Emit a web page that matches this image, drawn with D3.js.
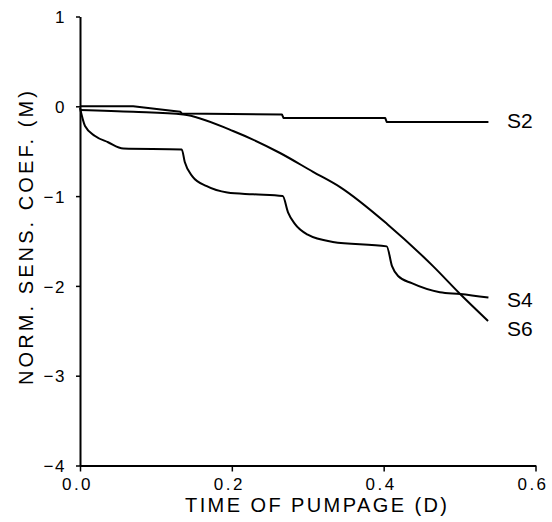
<!DOCTYPE html>
<html>
<head>
<meta charset="utf-8">
<script src="https://cdn.jsdelivr.net/npm/d3@7"></script>
<style>
  html, body { margin: 0; padding: 0; background: #fff; }
  svg { display: block; }
  text { font-family: "Liberation Sans", Arial, sans-serif; fill: #000; }
</style>
</head>
<body>
<svg id="chart" width="552" height="522"></svg>
<script>
// Normalized sensitivity coefficients (m) versus time of pumpage (days)
const seriesNames = ["S2", "S4", "S6"];

const s2Time  = [0, 0.070, 0.132, 0.134, 0.266, 0.268, 0.402, 0.404, 0.538];
const s2Value = [0, 0, -0.06, -0.08, -0.09, -0.13, -0.13, -0.175, -0.175];

const s4Time  = [0, 0.0066, 0.0198, 0.037, 0.057, 0.134, 0.138, 0.148, 0.167, 0.194, 0.228, 0.267,
                 0.274, 0.283, 0.300, 0.333, 0.404, 0.411, 0.419, 0.437, 0.474, 0.501, 0.538];
const s4Value = [-0.02, -0.22, -0.33, -0.40, -0.47, -0.48, -0.62, -0.78, -0.89, -0.96, -0.98, -1.00,
                 -1.18, -1.31, -1.43, -1.51, -1.56, -1.78, -1.89, -1.97, -2.07, -2.09, -2.13];

const s6Time  = [0, 0.070, 0.136, 0.2016, 0.2635, 0.307, 0.3426, 0.4045, 0.465, 0.5007, 0.5375];
const s6Value = [-0.04, -0.06, -0.09, -0.275, -0.52, -0.73, -0.90, -1.31, -1.78, -2.09, -2.39];

const xTicks = [0, 0.2, 0.4, 0.6];
const xTickLabels = ["0.0", "0.2", "0.4", "0.6"];
const yTicks = [1, 0, -1, -2, -3, -4];
const yTickLabels = ["1", "0", "\u22121", "\u22122", "\u22123", "\u22124"];

const xTitle = "TIME OF PUMPAGE (D)";
const yTitle = "NORM. SENS. COEF. (M)";

const svg = d3.select("#chart");
const font = "Liberation Sans, Arial, sans-serif";

const x = d3.scaleLinear().domain([0, 0.6]).range([80, 535.5]);
const y = d3.scaleLinear().domain([-4, 1]).range([465.5, 16.5]);

// Axes
const xAxis = svg.append("g").attr("transform", `translate(0,${y(-4)})`)
  .call(d3.axisBottom(x).tickValues(xTicks).tickFormat((d, i) => xTickLabels[i])
        .tickSize(6).tickSizeOuter(0));
xAxis.select(".domain").attr("stroke-width", 2);
xAxis.selectAll(".tick line").attr("stroke-width", 1.5);
xAxis.selectAll(".tick text")
  .attr("font-size", 17).attr("font-family", font)
  .attr("letter-spacing", 2.5).attr("dx", -3).attr("y", 12).attr("dy", "0.71em");

const yAxis = svg.append("g").attr("transform", `translate(${x(0)},0)`)
  .call(d3.axisLeft(y).tickValues(yTicks).tickFormat((d, i) => yTickLabels[i])
        .tickSize(4).tickSizeOuter(0));
yAxis.select(".domain").attr("stroke-width", 2);
yAxis.selectAll(".tick line").attr("stroke-width", 1.5);
yAxis.selectAll(".tick text")
  .attr("font-size", 17).attr("font-family", font)
  .attr("letter-spacing", 1.5)
  .attr("x", -14).attr("dy", "0.36em");

// Axis titles
svg.append("text")
  .attr("x", 316).attr("y", 512)
  .attr("text-anchor", "middle")
  .attr("font-size", 20)
  .attr("textLength", 262).attr("lengthAdjust", "spacing")
  .text(xTitle);

svg.append("text")
  .attr("transform", "translate(33,238) rotate(-90)")
  .attr("text-anchor", "middle")
  .attr("font-size", 20)
  .attr("textLength", 294).attr("lengthAdjust", "spacing")
  .text(yTitle);

// Series curves
const series = [
  { name: seriesNames[0], t: s2Time, v: s2Value, curve: d3.curveLinear },
  { name: seriesNames[1], t: s4Time, v: s4Value, curve: d3.curveMonotoneX },
  { name: seriesNames[2], t: s6Time, v: s6Value, curve: d3.curveMonotoneX }
];

series.forEach(s => {
  const pts = s.t.map((t, i) => [t, s.v[i]]);
  const line = d3.line().x(d => x(d[0])).y(d => y(d[1])).curve(s.curve);
  svg.append("path")
    .datum(pts)
    .attr("fill", "none")
    .attr("stroke", "#000")
    .attr("stroke-width", 2)
    .attr("stroke-linejoin", "round")
    .attr("d", line);
});

// End labels
const labelY = { S2: 128, S4: 307, S6: 336 };
series.forEach(s => {
  svg.append("text")
    .attr("x", 507).attr("y", labelY[s.name])
    .attr("font-size", 21)
    .text(s.name);
});
</script>
</body>
</html>
